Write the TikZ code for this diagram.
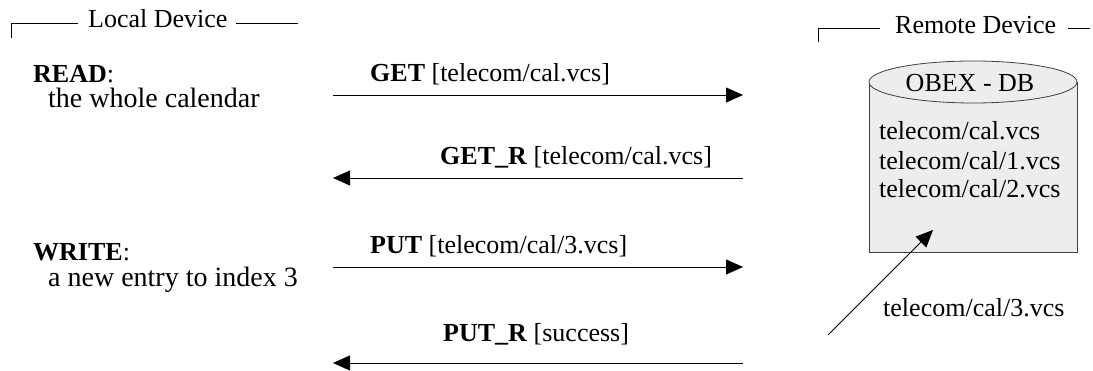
\documentclass[tikz,border=0pt]{standalone}
\usepackage{fontspec}
\setmainfont{Liberation Serif}
\usetikzlibrary{arrows.meta}
\begin{document}
\begin{tikzpicture}[x=1pt,y=-1pt,
  txt/.style={inner sep=0pt,anchor=base west,font=\fontsize{26}{30}\selectfont},
  note/.style={txt,font=\fontsize{28}{32}\selectfont},
  msg/.style={line width=0.8pt,-{Triangle[length=17pt,width=15pt]}},
  rule/.style={line width=0.8pt},
  db/.style={fill=black!7,draw=black!75,line width=0.8pt}]
\useasboundingbox (0,0) rectangle (1093,371);

% column headings with their brackets
\node[txt] (local) at (88,28) {Local Device};
\draw[rule] (11,38) -- (11,23) -- (78,23);
\draw[rule] (236,23) -- (298,23);
\node[txt] (remote) at (895,34) {Remote Device};
\draw[rule] (818,42) -- (818,28) -- (880,28);
\draw[rule] (1068,28) -- (1090,28);

% operations on the local side
\node[txt] (read) at (33,83) {\textbf{READ}:};
\node[note] (readtxt) at (48,108) {the whole calendar};
\node[txt] (write) at (33,261) {\textbf{WRITE}:};
\node[note] (writetxt) at (48,287) {a new entry to index 3};

% message ends
\coordinate (l1) at (333,95);  \coordinate (r1) at (743,95);
\coordinate (l2) at (333,178); \coordinate (r2) at (743,178);
\coordinate (l3) at (333,267); \coordinate (r3) at (743,267);
\coordinate (l4) at (333,363); \coordinate (r4) at (743,363);

\draw[msg] (l1) -- (r1);
\draw[msg] (r2) -- (l2);
\draw[msg] (l3) -- (r3);
\draw[msg] (r4) -- (l4);

\node[txt] (get) at (370,82) {\textbf{GET} [telecom/cal.vcs]};
\node[txt] (getr) at (440,165) {\textbf{GET\_R} [telecom/cal.vcs]};
\node[txt] (put) at (370,254) {\textbf{PUT} [telecom/cal/3.vcs]};
\node[txt] (putr) at (443,342) {\textbf{PUT\_R} [success]};

% OBEX database cylinder
\draw[db] (869,82) -- (869,252) -- (1077,252) -- (1077,82);
\draw[db] (973,82) ellipse [x radius=104, y radius=21];
\node[txt,anchor=base] (obex) at (970,92) {OBEX - DB};
\node[txt] (f0) at (879,140) {telecom/cal.vcs};
\node[txt] (f1) at (879,170) {telecom/cal/1.vcs};
\node[txt] (f2) at (879,198) {telecom/cal/2.vcs};

% new object inserted into the store
\coordinate (src) at (828,335);
\coordinate (dst) at (933,230);
\draw[msg] (src) -- (dst);
\node[txt] (f3) at (883,317) {telecom/cal/3.vcs};
\end{tikzpicture}
\end{document}
